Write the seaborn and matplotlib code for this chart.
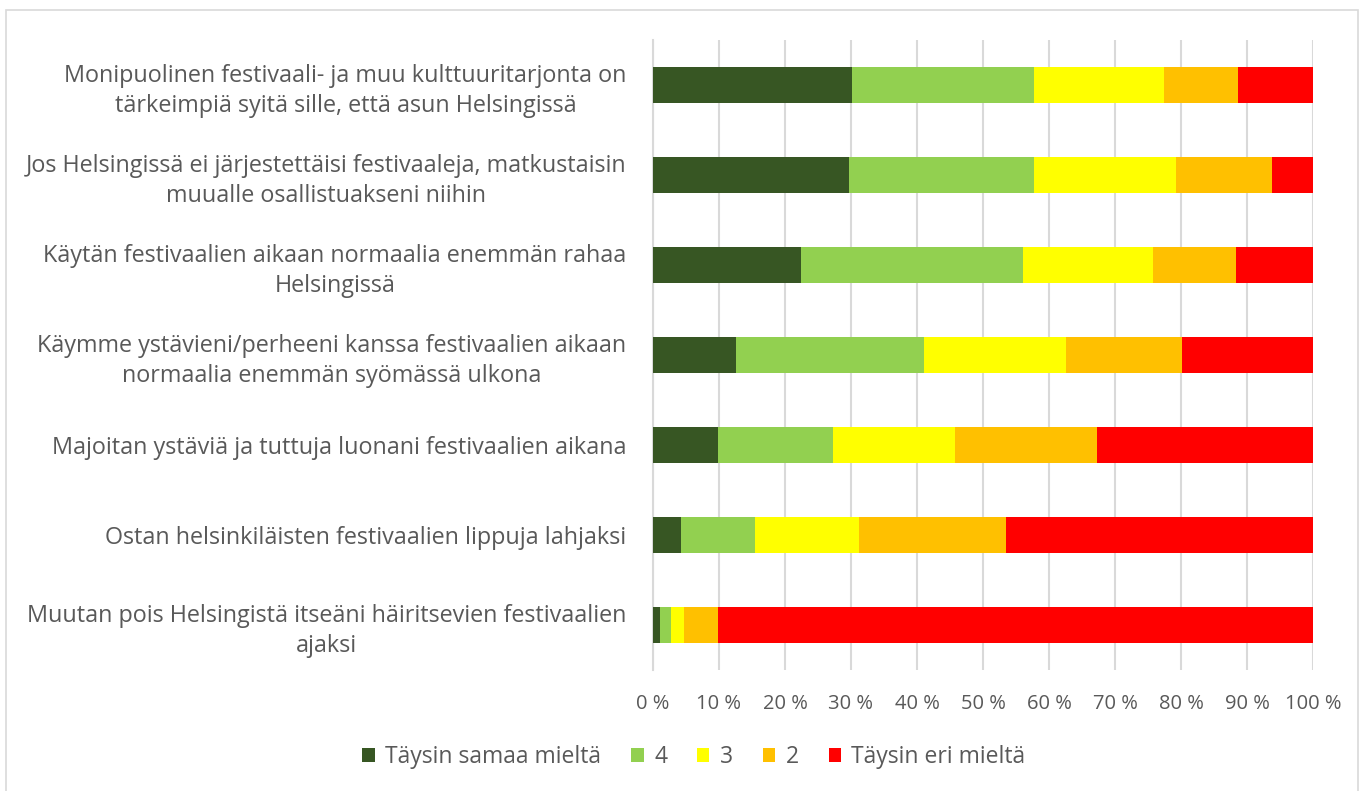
import matplotlib
matplotlib.use("Agg")
import matplotlib.pyplot as plt
import seaborn as sns
import pandas as pd
import numpy as np
from matplotlib.patches import Rectangle, Patch

categories = [
    "Monipuolinen festivaali- ja muu kulttuuritarjonta on\ntärkeimpiä syitä sille, että asun Helsingissä",
    "Jos Helsingissä ei järjestettäisi festivaaleja, matkustaisin\nmuualle osallistuakseni niihin",
    "Käytän festivaalien aikaan normaalia enemmän rahaa\nHelsingissä",
    "Käymme ystävieni/perheeni kanssa festivaalien aikaan\nnormaalia enemmän syömässä ulkona",
    "Majoitan ystäviä ja tuttuja luonani festivaalien aikana",
    "Ostan helsinkiläisten festivaalien lippuja lahjaksi",
    "Muutan pois Helsingistä itseäni häiritsevien festivaalien\najaksi",
]
series_names = ["Täysin samaa mieltä", "4", "3", "2", "Täysin eri mieltä"]
s5 = [30.1, 29.7, 22.4, 12.6, 9.9, 4.3, 1.1]
s4 = [27.6, 28.0, 33.7, 28.5, 17.3, 11.1, 1.6]
s3 = [19.7, 21.5, 19.7, 21.4, 18.6, 15.8, 2.0]
s2 = [11.2, 14.6, 12.5, 17.6, 21.5, 22.3, 5.1]
s1 = [11.4, 6.2, 11.7, 19.9, 32.7, 46.5, 90.2]
colors = ["#375623", "#92D050", "#FFFF00", "#FFC000", "#FF0000"]
tick_vals = [0, 10, 20, 30, 40, 50, 60, 70, 80, 90, 100]
tick_labels = [f"{v} %" for v in tick_vals]

series = [s5, s4, s3, s2, s1]
vals = np.array(series, dtype=float)
totals = vals.sum(axis=0)
pct = vals / totals * 100
cum = np.cumsum(pct, axis=0)

sns.set_theme(style="white")
plt.rcParams["font.family"] = ["Open Sans", "DejaVu Sans"]
text_color = "#595959"

fig = plt.figure(figsize=(13.61, 7.91), dpi=100)
ax = fig.add_axes([653/1361, 1-670/791, 660/1361, 630/791])

for i in range(len(series_names) - 1, -1, -1):
    df = pd.DataFrame({"cat": categories, "val": cum[i]})
    sns.barplot(data=df, x="val", y="cat", orient="h", color=colors[i],
                width=0.4, saturation=1, ax=ax, zorder=3, linewidth=0)

ax.set_xlim(0, 100)
ax.set_ylim(6.5, -0.5)
ax.set_xticks(tick_vals)
ax.set_xticklabels(tick_labels, color=text_color, fontsize=14.5)
ax.tick_params(axis="x", length=0, pad=17)
ax.tick_params(axis="y", length=0, pad=19)
for lab in ax.get_yticklabels():
    lab.set_multialignment("center")
    lab.set_color(text_color)
    lab.set_fontsize(16.8)
    lab.set_linespacing(1.35)
ax.set_xlabel("")
ax.set_ylabel("")
ax.grid(axis="x", color="#d9d9d9", linewidth=1.5, zorder=0)
for sp in ax.spines.values():
    sp.set_visible(False)
ax.spines["left"].set_visible(True)
ax.spines["left"].set_color("#d9d9d9")
ax.spines["left"].set_linewidth(1.5)

handles = [Patch(facecolor=c, edgecolor="none") for c in colors]
fig.legend(handles, series_names, loc="center", bbox_to_anchor=(694/1361, 1-757/791),
           ncol=5, frameon=False, fontsize=16.5, handlelength=0.55, handleheight=0.55,
           columnspacing=1.3, handletextpad=0.45, labelcolor=text_color)

fig.patches.append(Rectangle((6/1361, -0.05), 1352/1361, 1.05 - 10/791,
                             transform=fig.transFigure, fill=False,
                             edgecolor="#d9d9d9", linewidth=1.2))

fig.savefig("out.png", dpi=100, facecolor="white")
